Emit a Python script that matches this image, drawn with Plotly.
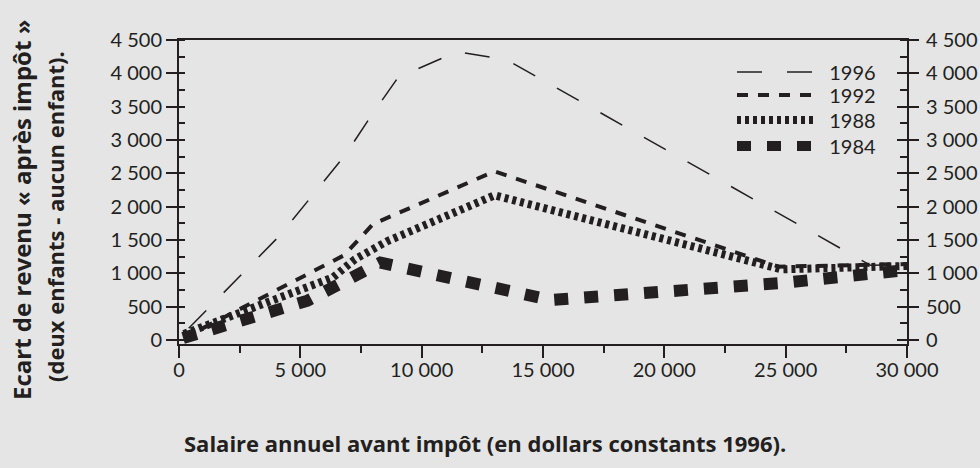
import plotly.graph_objects as go

# ---- data ----
years = ["1996", "1992", "1988", "1984"]

x_1996 = [400, 4160, 6840, 7950, 9030, 11460, 13520, 28500, 30000]
y_1996 = [175, 1570, 2770, 3380, 3940, 4325, 4200, 1120, 1130]

x_1992 = [200, 6800, 8000, 13000, 24700, 30000]
y_1992 = [30, 1270, 1740, 2530, 1100, 1140]

x_1988 = [200, 6350, 7250, 8570, 13000, 24800, 30000]
y_1988 = [90, 940, 1210, 1480, 2170, 1060, 1110]

x_1984 = [170, 5300, 8300, 15300, 25000, 30000]
y_1984 = [30, 590, 1160, 600, 860, 1050]

x_tickvals = [0, 5000, 10000, 15000, 20000, 25000, 30000]
x_ticktext = ["0", "5 000", "10 000", "15 000", "20 000", "25 000", "30 000"]
y_tickvals = [0, 500, 1000, 1500, 2000, 2500, 3000, 3500, 4000, 4500]
y_ticktext = ["0", "500", "1 000", "1 500", "2 000", "2 500", "3 000", "3 500", "4 000", "4 500"]

x_title = "Salaire annuel avant impôt (en dollars constants 1996)."
y_title_1 = "Ecart de revenu « après impôt »"
y_title_2 = "(deux enfants - aucun enfant)."

# ---- style ----
INK = "#231f20"
BG = "#e5e5e5"
FONT = "Lato"
TFONT = "Open Sans"
styles = {
    "1996": dict(width=1.5, dash="25px,25px"),
    "1992": dict(width=4, dash="11px,10px"),
    "1988": dict(width=8, dash="4px,4px"),
    "1984": dict(width=12, dash="14px,16px"),
}
series = {"1996": (x_1996, y_1996), "1992": (x_1992, y_1992),
          "1988": (x_1988, y_1988), "1984": (x_1984, y_1984)}
legend_ids = {"1996": "legend", "1992": "legend2", "1988": "legend3", "1984": "legend4"}
legend_rows_px = {"legend": 72, "legend2": 95, "legend3": 120, "legend4": 146}

PLOT_TOP, PLOT_BOTTOM, PLOT_LEFT, PLOT_RIGHT = 40, 344, 179, 907
PH = PLOT_BOTTOM - PLOT_TOP
PW = PLOT_RIGHT - PLOT_LEFT

fig = go.Figure()
for yr in years:
    xs, ys = series[yr]
    fig.add_trace(go.Scatter(
        x=xs, y=ys, mode="lines", name="\u00a0\u00a0" + yr,
        legend=legend_ids[yr],
        line=dict(color=INK, width=styles[yr]["width"], dash=styles[yr]["dash"]),
        hoverinfo="skip",
    ))

YR = [-60, 4500]
tickfont = dict(family=FONT, size=20, color=INK)
common_y = dict(range=YR, tickvals=y_tickvals, showgrid=False, zeroline=False,
                fixedrange=True, automargin=False)

legend_layout = {}
for lid, ypx in legend_rows_px.items():
    legend_layout[lid] = dict(
        x=(732 - PLOT_LEFT) / PW, xanchor="left",
        y=(PLOT_BOTTOM - ypx) / PH, yanchor="middle",
        bgcolor="rgba(0,0,0,0)", borderwidth=0,
        font=dict(family=FONT, size=20, color=INK),
        itemwidth=77, tracegroupgap=0,
    )

fig.update_layout(
    width=980, height=468, autosize=False,
    margin=dict(l=PLOT_LEFT, r=980 - PLOT_RIGHT, t=PLOT_TOP, b=468 - PLOT_BOTTOM,
                pad=0, autoexpand=False),
    paper_bgcolor=BG, plot_bgcolor=BG,
    font=dict(family=FONT, size=20, color=INK),
    showlegend=True,
    **legend_layout,
    xaxis=dict(range=[0, 30000], tickvals=x_tickvals, ticktext=x_ticktext,
               showgrid=False, zeroline=False, showline=True, mirror=True,
               linecolor=INK, linewidth=2, ticks="outside", ticklen=12,
               tickwidth=2, tickcolor=INK, tickfont=tickfont, fixedrange=True,
               ticklabelstandoff=-5, automargin=False,
               minor=dict(dtick=2500, ticks="outside", ticklen=7, tickwidth=2, tickcolor=INK)),
    yaxis=dict(**common_y, ticktext=y_ticktext, showline=True, linecolor=INK,
               linewidth=2, ticks="outside", ticklen=11, tickwidth=2,
               tickcolor=INK, tickfont=tickfont,
               minor=dict(dtick=250, tick0=0, ticks="inside", ticklen=6, tickwidth=2, tickcolor=INK)),
    yaxis2=dict(**common_y, ticktext=y_ticktext, overlaying="y", side="right",
                showline=True, linecolor=INK, linewidth=2, ticks="outside",
                ticklen=10, tickwidth=2, tickcolor=INK, tickfont=tickfont,
                ticklabelstandoff=3,
                minor=dict(dtick=250, tick0=0, ticks="inside", ticklen=7, tickwidth=2, tickcolor=INK)),
    yaxis3=dict(**common_y, overlaying="y", side="left", showticklabels=False,
                showline=False, ticks="inside", ticklen=4, tickwidth=2, tickcolor=INK),
    yaxis4=dict(**common_y, overlaying="y", side="right", showticklabels=False,
                showline=False, ticks="inside", ticklen=10, tickwidth=2, tickcolor=INK),
)

# invisible helper traces that activate the overlay axes
for ax in ["y2", "y3", "y4"]:
    fig.add_trace(go.Scatter(x=[None], y=[None], yaxis=ax, showlegend=False,
                             hoverinfo="skip"))

fig.add_annotation(text="<b>" + x_title + "</b>", xref="paper", yref="paper",
                   x=(485 - PLOT_LEFT) / PW, y=(PLOT_BOTTOM - 443) / PH,
                   xanchor="center", yanchor="middle",
                   showarrow=False, font=dict(family=TFONT, size=22, color=INK))
fig.add_annotation(text="<b>" + y_title_1 + "</b>", xref="paper", yref="paper",
                   x=(21 - PLOT_LEFT) / PW, y=(PLOT_BOTTOM - 210) / PH,
                   xanchor="center", yanchor="middle",
                   textangle=-90, showarrow=False, font=dict(family=TFONT, size=24, color=INK))
fig.add_annotation(text="<b>" + y_title_2 + "</b>", xref="paper", yref="paper",
                   x=(55 - PLOT_LEFT) / PW, y=(PLOT_BOTTOM - 217) / PH,
                   xanchor="center", yanchor="middle",
                   textangle=-90, showarrow=False, font=dict(family=TFONT, size=22, color=INK))

PAGE_CSS = ("html,body{margin:0;padding:0;overflow:hidden;width:980px;height:468px;"
            "background:#e5e5e5;} body>div{width:980px;height:468px;overflow:hidden;"
            "line-height:0;font-size:0;}")

fig.write_html(
    "out.html",
    config={"displayModeBar": False, "staticPlot": True},
    post_script=(
        "var s=document.createElement('style');"
        "s.textContent='" + PAGE_CSS + "';"
        "document.head.appendChild(s);"
    ),
)
